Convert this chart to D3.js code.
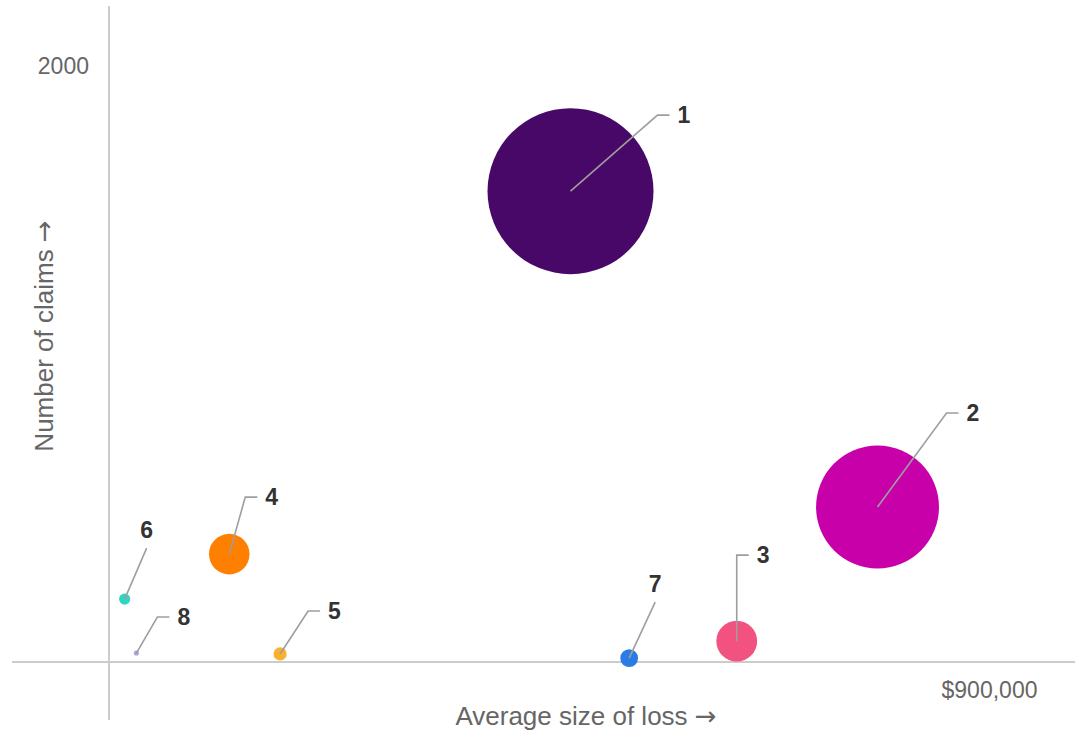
<!DOCTYPE html>
<html>
<head>
<meta charset="utf-8">
<script src="https://cdn.jsdelivr.net/npm/d3@7"></script>
<style>
  html, body { margin: 0; padding: 0; background: #fff; }
  svg { display: block; font-family: "Liberation Sans", Arial, sans-serif; }
</style>
</head>
<body>
<svg id="chart" width="1077" height="731"></svg>
<script>
// ---- data ----
const labels    = ["1", "2", "3", "4", "5", "6", "7", "8"];
const avgLoss   = [472000, 786000, 642000, 123000, 175000, 16000, 532000, 28000]; // x: average size of loss ($)
const claims    = [1580, 520, 70, 362, 27, 211, 13, 30];                           // y: number of claims
const totalLoss = [746, 409, 45, 44.5, 4.7, 3.4, 8.5, 0.7];                         // bubble size ($M)
const colors    = ["#480868", "#c800aa", "#f2527f", "#ff8000", "#f8b22e", "#33d4bf", "#2c7be5", "#b39ddb"];
const xTicks    = [900000];
const yTicks    = [2000];

// ---- label callout layout (pixel offsets from bubble centre) ----
const callouts = [
  {dx: 87, dy: -76, type: "elbow"},
  {dx: 69, dy: -94, type: "elbow"},
  {dx: 0,  dy: -86, type: "elbow"},
  {dx: 16, dy: -57, type: "elbow"},
  {dx: 28, dy: -43, type: "elbow"},
  {dx: 22, dy: -51, type: "above"},
  {dx: 26, dy: -56, type: "above"},
  {dx: 21, dy: -36, type: "elbow"}
];

const data = labels.map((l, i) => ({
  label: l, x: avgLoss[i], y: claims[i], size: totalLoss[i], color: colors[i], c: callouts[i]
}));

const svg = d3.select("#chart");

const x = d3.scaleLinear().domain([0, 900000]).range([109, 989]);
const y = d3.scaleLinear().domain([0, 2000]).range([662, 66]);
const r = d3.scaleSqrt().domain([0, d3.max(totalLoss)]).range([0, 83]);

// axis lines
svg.append("line").attr("x1", x(0)).attr("x2", x(0)).attr("y1", 6).attr("y2", 720)
  .attr("stroke", "#cccccc").attr("stroke-width", 2);
svg.append("line").attr("x1", 12).attr("x2", 1075).attr("y1", y(0)).attr("y2", y(0))
  .attr("stroke", "#cccccc").attr("stroke-width", 2);

// axes (tick labels only)
const gy = svg.append("g").attr("transform", `translate(${x(0)},0)`)
  .call(d3.axisLeft(y).tickValues(yTicks).tickSize(0).tickPadding(20).tickFormat(d3.format("d")));
const gx = svg.append("g").attr("transform", `translate(0,${y(0)})`)
  .call(d3.axisBottom(x).tickValues(xTicks).tickSize(0).tickPadding(20).tickFormat(d => "$" + d3.format(",")(d)));
[gy, gx].forEach(g => {
  g.select(".domain").remove();
  g.selectAll("text").attr("font-size", 23).attr("fill", "#666666")
    .attr("font-family", "'Liberation Sans', Arial, sans-serif");
});

// axis titles
function title(sel, txt) {
  sel.attr("text-anchor", "middle").attr("font-size", 26).attr("fill", "#666666");
  sel.append("tspan").text(txt + " ");
  sel.append("tspan").attr("font-family", "'DejaVu Sans', sans-serif").attr("font-size", 26).text("\u2192");
}
title(svg.append("text").attr("x", 586).attr("y", 725), "Average size of loss");
title(svg.append("text").attr("transform", "translate(53,336) rotate(-90)"), "Number of claims");

// bubbles
svg.append("g").selectAll("circle").data(data).join("circle")
  .attr("cx", d => x(d.x)).attr("cy", d => y(d.y)).attr("r", d => Math.max(2.5, r(d.size)))
  .attr("fill", d => d.color);

// callouts
const cg = svg.append("g");
data.forEach(d => {
  const cx = x(d.x), cy = y(d.y);
  const ex = cx + d.c.dx, ey = cy + d.c.dy;
  if (d.c.type === "elbow") {
    cg.append("path").attr("d", `M${cx},${cy}L${ex},${ey}L${ex + 12},${ey}`)
      .attr("fill", "none").attr("stroke", "#9e9e9e").attr("stroke-width", 1.6);
    cg.append("text").attr("x", ex + 20).attr("y", ey).attr("dy", "0.35em")
      .attr("font-size", 23).attr("font-weight", "bold").attr("fill", "#333333").text(d.label);
  } else {
    cg.append("path").attr("d", `M${cx},${cy}L${ex},${ey}`)
      .attr("fill", "none").attr("stroke", "#9e9e9e").attr("stroke-width", 1.6);
    cg.append("text").attr("x", ex).attr("y", ey - 10).attr("text-anchor", "middle")
      .attr("font-size", 23).attr("font-weight", "bold").attr("fill", "#333333").text(d.label);
  }
});
</script>
</body>
</html>
